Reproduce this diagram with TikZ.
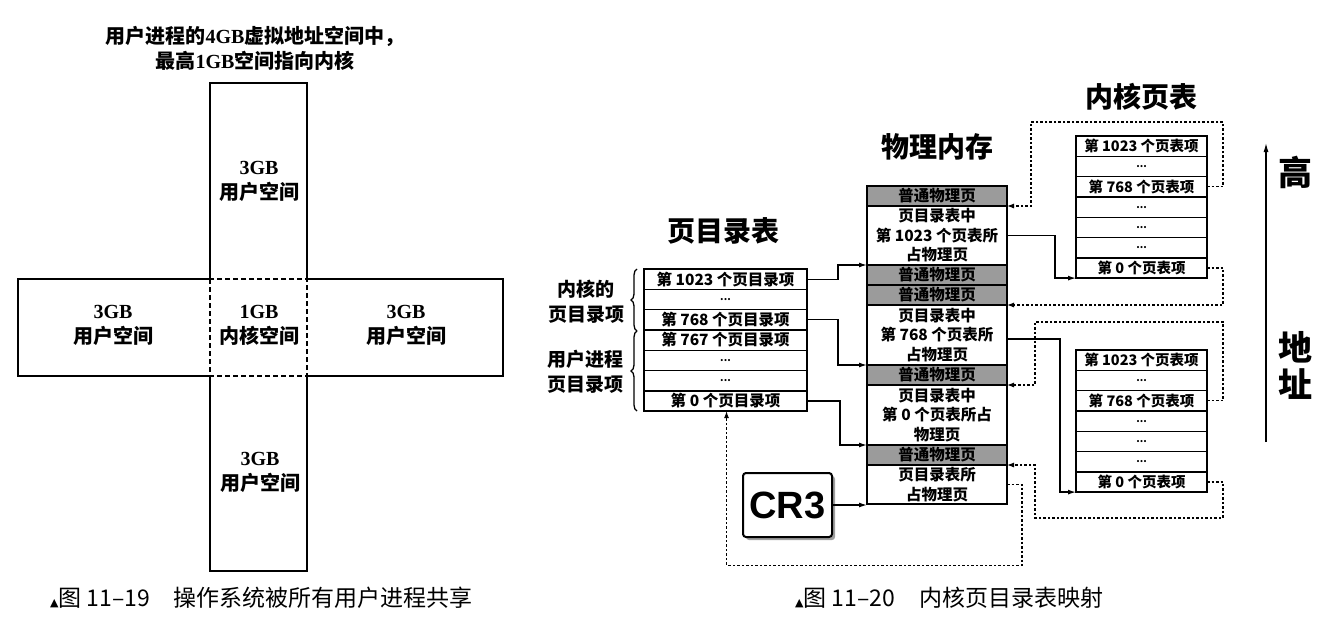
\documentclass[tikz,border=0pt]{standalone}
\usepackage{fontspec}
\setmainfont{Noto Sans CJK SC}
\newfontfamily\serifb{Liberation Serif}
\newfontfamily\sansb{Liberation Sans}
\newfontfamily\dejavu{DejaVu Sans}
\usetikzlibrary{arrows.meta,decorations.pathreplacing,shadows,calc}
\definecolor{pgray}{RGB}{155,155,155}
\newcommand\dd{{\fontsize{10}{10}\selectfont\bfseries ...}}
\begin{document}
\begin{tikzpicture}[x=1pt,y=-1pt,
  every node/.style={inner sep=0pt, outer sep=0pt},
  row/.style={draw, line width=1.4pt, align=center, font=\fontsize{15.5}{19.5}\selectfont\bfseries},
  pdrow/.style={row, minimum width=163pt, minimum height=20.3pt},
  pmrow/.style={row, minimum width=140pt},
  gpm/.style={pmrow, fill=pgray, minimum height=20pt},
  ktrow/.style={row, minimum width=131pt, minimum height=20.3pt, font=\fontsize{14.5}{17}\selectfont\bfseries},
  ttl/.style={font=\fontsize{28}{28}\selectfont\bfseries},
  big/.style={font=\fontsize{34}{34}\selectfont\bfseries},
  lbl/.style={align=center, font=\fontsize{20}{25}\selectfont\bfseries},
  brlbl/.style={align=center, font=\fontsize{19}{25}\selectfont\bfseries},
  captxt/.style={anchor=west, font=\fontsize{23}{23}\selectfont},
  arr/.style={line width=1.3pt, -{Latex[length=8pt,width=5pt]}},
  darr/.style={line width=1.1pt, dash pattern=on 2.5pt off 2pt, -{Latex[length=7pt,width=5pt]}},
  brc/.style={line width=1.3pt, decorate, decoration={brace, amplitude=6pt}}
]
\useasboundingbox (0,0) rectangle (1332,630);
\fill[white] (0,0) rectangle (1332,630);

%% ---------- left figure ----------
\node[lbl] (ltitle) at (255,48) {用户进程的{\serifb\bfseries 4GB}虚拟地址空间中，\\最高{\serifb\bfseries 1GB}空间指向内核};
\draw[line width=1.7pt] (210,279) -- (210,83) -- (307,83) -- (307,279) -- (503,279) -- (503,376)
  -- (307,376) -- (307,571) -- (210,571) -- (210,376) -- (18,376) -- (18,279) -- cycle;
\draw[line width=1.7pt, dash pattern=on 5pt off 3pt, fill=white] (210,279) rectangle (307,376);
\node[lbl] (ut) at (259,181) {{\serifb\bfseries 3GB}\\用户空间};
\node[lbl] (ul) at (113,325) {{\serifb\bfseries 3GB}\\用户空间};
\node[lbl] (kc) at (259,325) {{\serifb\bfseries 1GB}\\内核空间};
\node[lbl] (ur) at (406,325) {{\serifb\bfseries 3GB}\\用户空间};
\node[lbl] (ub) at (260,472) {{\serifb\bfseries 3GB}\\用户空间};
\node[captxt] (cap1) at (50,598) {{\dejavu\fontsize{11}{11}\selectfont ▲}图 11–19\hspace{24pt}操作系统被所有用户进程共享};

%% ---------- right figure ----------
\node[ttl] (tpd) at (723,231) {页目录表};
\node[ttl] (tpm) at (937,147) {物理内存};
\node[ttl] (tkt) at (1141,97) {内核页表};

% page directory
\foreach \i/\t in {1/{第 1023 个页目录项},2/{\dd},3/{第 768 个页目录项},4/{第 767 个页目录项},5/{\dd},6/{\dd},7/{第 0 个页目录项}}
  \node[pdrow] (pd\i) at (725.5,{269+20.3*(\i-0.5)}) {\t};

\draw[brc] (637,331) -- (637,269);
\draw[brc] (637,411) -- (637,331);
\node[brlbl] (bk) at (586,302) {内核的\\页目录项};
\node[brlbl] (bu) at (585,372) {用户进程\\页目录项};

% physical memory
\node[gpm] (pm1) at (937,196) {普通物理页};
\node[pmrow, minimum height=59pt] (pm2) at (937,235.5) {页目录表中\\第 1023 个页表所\\占物理页};
\node[gpm] (pm3) at (937,275) {普通物理页};
\node[gpm] (pm4) at (937,295) {普通物理页};
\node[pmrow, minimum height=60pt] (pm5) at (937,335) {页目录表中\\第 768 个页表所\\占物理页};
\node[gpm] (pm6) at (937,375) {普通物理页};
\node[pmrow, minimum height=60pt] (pm7) at (937,415) {页目录表中\\第 0 个页表所占\\物理页};
\node[gpm] (pm8) at (937,455) {普通物理页};
\node[pmrow, minimum height=39pt] (pm9) at (937,484.5) {页目录表所\\占物理页};

% kernel page tables
\foreach \i/\t in {1/{第 1023 个页表项},2/{\dd},3/{第 768 个页表项},4/{\dd},5/{\dd},6/{\dd},7/{第 0 个页表项}}{
  \node[ktrow] (ka\i) at (1141.5,{136+20.3*(\i-0.5)}) {\t};
  \node[ktrow] (kb\i) at (1141.5,{350+20.3*(\i-0.5)}) {\t};
}

% CR3
\node[draw, line width=2pt, rounded corners=3pt, minimum width=89pt, minimum height=64pt, fill=white,
  drop shadow={shadow xshift=3pt, shadow yshift=-3pt, fill=black!75},
  font={\fontsize{38}{38}\selectfont\sansb\bfseries}] (cr3) at (787.5,505) {CR3};

% solid connectors
\draw[arr] (pd1.east) -- ++(31,0) |- (pm3.north west);
\draw[arr] (pd3.east) -- ++(31,0) |- (pm5.south west);
\draw[arr] (pd7.east) -- ++(33,0) |- (pm7.south west);
\draw[arr] (cr3.east) -- (cr3.east -| pm9.west);
\draw[arr] (pm2.east) -- ++(48,0) |- (ka7.south west);
\draw[arr] ($(pm5.east)+(0,4)$) -- ++(53,0) |- (kb7.south west);

% dashed connectors
\coordinate (w1) at (1031,122);
\coordinate (w3) at (1035,322);
\coordinate (w4) at (1035,518);
\draw[darr] (ka3.east) -- ++(16,0) |- (w1) |- (pm1.south east);
\draw[darr] (ka7.east) -- ++(16,0) |- (pm4.south east);
\draw[darr] (kb3.east) -- ++(16,0) |- (w3) |- (pm6.south east);
\draw[darr] (kb7.east) -- ++(16,0) |- (w4) |- (pm8.south east);
\draw[darr] (pm9.east) -- ++(15,0) |- ($(pd7.south)+(1,154)$) -- ($(pd7.south)+(1,0)$);

% address axis
\coordinate (ax0) at (1266,442);
\coordinate (ax1) at (1266,143);
\draw[line width=1.2pt, -{Latex[length=9pt,width=5pt]}] (ax0) -- (ax1);
\node[big] (hi) at (1295,172) {高};
\node[big] (di) at (1295,347) {地};
\node[big] (zh) at (1295,384) {址};

\node[captxt] (cap2) at (795,598) {{\dejavu\fontsize{11}{11}\selectfont ▲}图 11–20\hspace{24pt}内核页目录表映射};
\end{tikzpicture}
\end{document}
